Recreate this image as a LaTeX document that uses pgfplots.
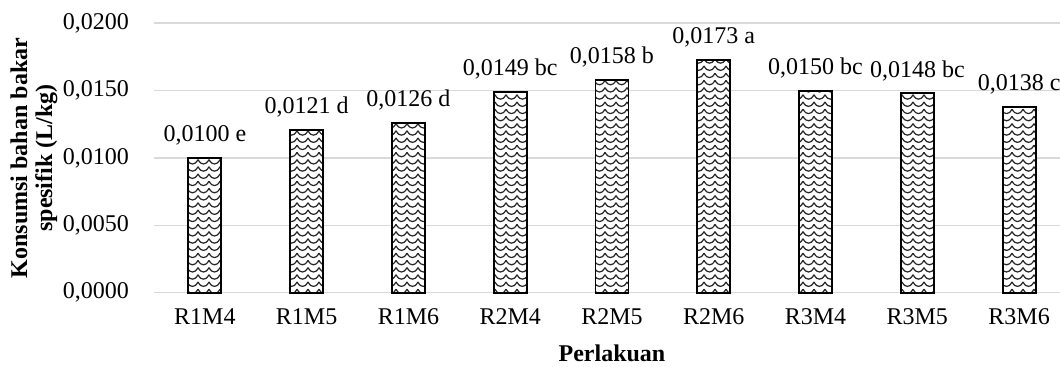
\documentclass[border=0pt]{standalone}
\usepackage{fontspec}
\setmainfont{Liberation Serif}
\usepackage{pgfplots}
\usepackage{pgfplotstable}
\pgfplotsset{compat=1.18}
\usetikzlibrary{patterns}
\definecolor{gridgray}{HTML}{D9D9D9}
\pgfdeclarepatternformonly{wavez}{\pgfqpoint{-0.5pt}{-0.5pt}}{\pgfqpoint{6pt}{4.2pt}}{\pgfqpoint{5.5pt}{3.6pt}}{%
  \pgfsetlinewidth{0.6pt}%
  \pgfpathmoveto{\pgfqpoint{0pt}{2.9pt}}%
  \pgfpathcurveto{\pgfqpoint{1pt}{1.2pt}}{\pgfqpoint{1.75pt}{0.7pt}}{\pgfqpoint{2.75pt}{0.7pt}}%
  \pgfpathcurveto{\pgfqpoint{3.75pt}{0.7pt}}{\pgfqpoint{4.5pt}{1.2pt}}{\pgfqpoint{5.5pt}{2.9pt}}%
  \pgfusepath{stroke}%
}
\pgfplotstableread[col sep=semicolon, row sep=\\]{
x;y;lab\\
0;0.0100;0,0100 e\\
1;0.0121;0,0121 d\\
2;0.0126;0,0126 d\\
3;0.0149;0,0149 bc\\
4;0.0158;0,0158 b\\
5;0.0173;0,0173 a\\
6;0.0150;0,0150 bc\\
7;0.0148;0,0148 bc\\
8;0.0138;0,0138 c\\
}\datatable
\begin{document}
\begin{tikzpicture}
\path[use as bounding box] (-77pt,-37.15pt) rectangle (453pt,146.35pt);
\begin{axis}[
  at={(0pt,0pt)}, anchor=south west,
  scale only axis,
  width=458pt, height=134.7pt,
  xmin=-0.5, xmax=8.5,
  ymin=0, ymax=0.02,
  ytick={0,0.005,0.01,0.015,0.02},
  xtick={0,1,2,3,4,5,6,7,8},
  xticklabels={R1M4,R1M5,R1M6,R2M4,R2M5,R2M6,R3M4,R3M5,R3M6},
  axis line style={draw=none},
  major tick length=0pt,
  ymajorgrids,
  grid style={gridgray, line width=0.8pt},
  scaled y ticks=false,
  yticklabel style={/pgf/number format/fixed, /pgf/number format/fixed zerofill, /pgf/number format/precision=4, /pgf/number format/use comma, /pgf/number format/assume math mode=true, xshift=-9pt},
  every tick label/.append style={font=\fontsize{12}{14}\selectfont, text=black},
  xticklabel style={anchor=base, yshift=-16pt},
  xlabel={Perlakuan},
  every axis x label/.style={at={(rel axis cs:0.5,0)}, anchor=base, yshift=-34.6pt, font=\bfseries\fontsize{12}{14}\selectfont},
  ylabel={Konsumsi bahan bakar\\spesifik (L/kg)},
  every axis y label/.style={at={(rel axis cs:0,0.5)}, xshift=-60pt, anchor=center, rotate=90, align=center, font=\bfseries\fontsize{12}{12.5}\selectfont},
  clip=false,
]
\addplot[ybar, bar width=16.5pt, draw=black, line width=0.9pt, fill=white,
  postaction={pattern=wavez, pattern color=black!85},
  point meta=explicit symbolic,
  nodes near coords,
  every node near coord/.append style={anchor=base, yshift=8pt, font=\fontsize{12}{14}\selectfont, text=black, inner sep=0pt},
] table[x=x, y=y, meta=lab] {\datatable};
\end{axis}
\end{tikzpicture}
\end{document}
